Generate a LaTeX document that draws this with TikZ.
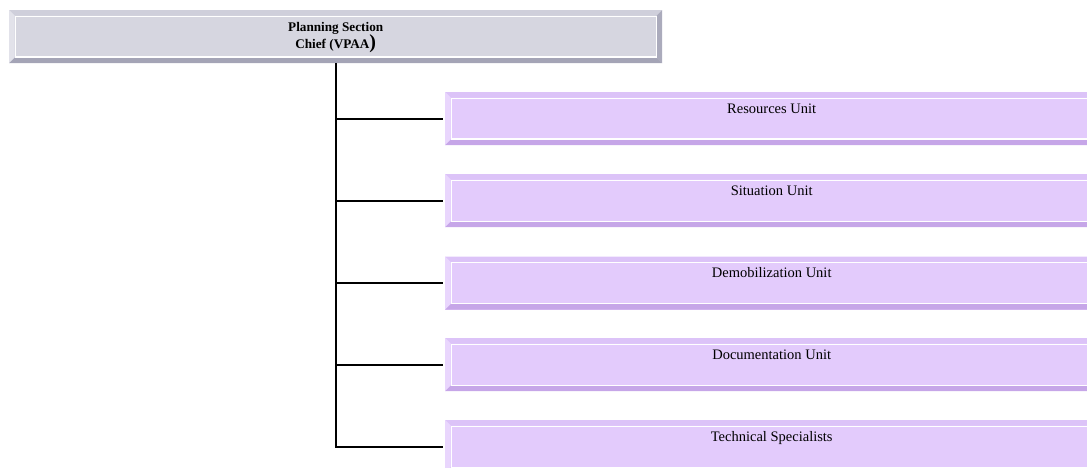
\documentclass[tikz,border=0pt]{standalone}
\usepackage{fontspec}
\setmainfont{Liberation Serif}
\usetikzlibrary{calc}
\definecolor{grayface}{HTML}{D6D6E0}
\definecolor{graytop}{HTML}{CFCFDB}
\definecolor{grayleft}{HTML}{E2E2EA}
\definecolor{grayright}{HTML}{ABABBC}
\definecolor{graybottom}{HTML}{A4A4B6}
\definecolor{purpface}{HTML}{E3CBFC}
\definecolor{purptop}{HTML}{DCC3F8}
\definecolor{purpleft}{HTML}{E9D6FD}
\definecolor{purpright}{HTML}{C4A4E6}
\definecolor{purpbottom}{HTML}{C6A6E8}
\tikzset{
  bevel/.style n args={5}{
    rectangle, inner sep=0pt, minimum width=653pt, minimum height=53pt,
    fill=#1,
    path picture={
      \coordinate (sw) at (path picture bounding box.south west);
      \coordinate (ne) at (path picture bounding box.north east);
      \coordinate (nw) at (sw|-ne);
      \coordinate (se) at (ne|-sw);
      \fill[#2] (nw) -- (ne) -- ($(ne)+(-5.5,-5.5)$) -- ($(nw)+(5.5,-5.5)$) -- cycle;
      \fill[#3] (nw) -- (sw) -- ($(sw)+(5.5,5.5)$) -- ($(nw)+(5.5,-5.5)$) -- cycle;
      \fill[#4] (ne) -- (se) -- ($(se)+(-5.5,5.5)$) -- ($(ne)+(-5.5,-5.5)$) -- cycle;
      \fill[#5] (sw) -- (se) -- ($(se)+(-5.5,5.5)$) -- ($(sw)+(5.5,5.5)$) -- cycle;
      \draw[white, line width=1.2pt] ($(sw)+(6.1,6.1)$) rectangle ($(ne)+(-6.1,-6.1)$);
    }
  },
  chiefbox/.style={bevel={grayface}{graytop}{grayleft}{grayright}{graybottom},
    font=\bfseries\fontsize{13.2}{16}\selectfont, align=center},
  unitbox/.style={bevel={purpface}{purptop}{purpleft}{purpright}{purpbottom},
    minimum width=700pt,
    font=\fontsize{14.5}{16}\selectfont, text height=21pt, text depth=32pt,
    execute at end node={\hspace*{47pt}}},
  link/.style={line width=2pt, black, shorten >=2pt}
}
\begin{document}
\begin{tikzpicture}[x=1pt,y=1pt]
  \useasboundingbox (0,0) rectangle (1087,-468);
  \node[chiefbox, anchor=north west] (chief) at (9,-10)
    {Planning Section\\[1.5pt]Chief (VPAA\smash{\fontsize{20}{16}\selectfont )}};
  \node[unitbox, anchor=north west] (res) at (445,-92) {Resources Unit};
  \node[unitbox, anchor=north west] (sit) at (445,-174) {Situation Unit};
  \node[unitbox, anchor=north west] (demob) at (445,-256.5) {Demobilization Unit};
  \node[unitbox, anchor=north west] (doc) at (445,-338) {Documentation Unit};
  \node[unitbox, anchor=north west] (tech) at (445,-420) {Technical Specialists};
  \foreach \u in {res,sit,demob,doc,tech}
    \draw[link] (chief.south) |- (\u.west);
\end{tikzpicture}
\end{document}
